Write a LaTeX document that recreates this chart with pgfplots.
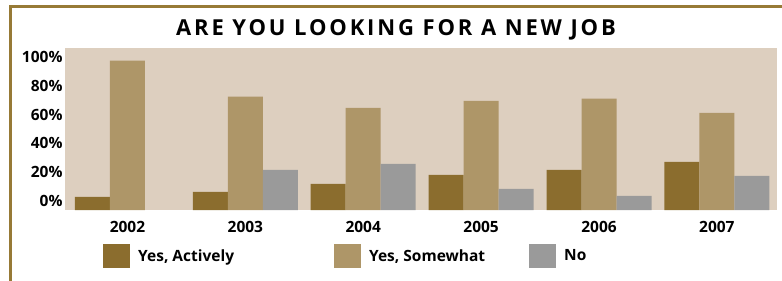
\documentclass[border=0pt]{standalone}
\usepackage{pgfplots}
\pgfplotsset{compat=1.18}
\usepackage{fontspec}
\setmainfont{Open Sans}
\definecolor{active}{HTML}{8B6D2E}
\definecolor{somewhat}{HTML}{AE9668}
\definecolor{nocol}{HTML}{9A9A9A}
\definecolor{bgc}{HTML}{DDCFBF}
\definecolor{frame}{HTML}{977A36}
\begin{document}
\begin{tikzpicture}
\path[use as bounding box] (0pt,0pt) rectangle (782pt,281pt);
\draw[frame, line width=2.6pt] (10.5pt,0pt) -- (10.5pt,274.5pt) -- (782pt,274.5pt);
\begin{axis}[
  at={(65pt,71pt)}, anchor=south west,
  scale only axis, width=712pt, height=162pt,
  ybar, bar width=35pt,
  xmin=-0.53, xmax=5.51,
  ymin=0, ymax=113,
  y filter/.expression={y+6.5},
  axis background/.style={fill=bgc},
  axis line style={draw=none},
  major tick length=0pt,
  xtick={0,1,2,3,4,5},
  xticklabels={2002,2003,2004,2005,2006,2007},
  ytick={6.5,26.5,46.5,66.5,86.5,106.5},
  yticklabels={0\%,20\%,40\%,60\%,80\%,100\%},
  tick label style={font=\bfseries\fontsize{15.5}{18}\selectfont},
  /pgf/number format/assume math mode=true,
  yticklabel style={anchor=east, xshift=1pt},
  xticklabel style={yshift=-8pt},
  legend columns=3,
  legend style={draw=none, fill=none, at={(0.0534,-0.284)}, anchor=west,
    inner sep=0pt,
    font=\bfseries\fontsize{15.5}{18}\selectfont,
    /tikz/every odd column/.append style={column sep=6pt},
    /tikz/column 2/.append style={column sep=98pt},
    /tikz/column 4/.append style={column sep=42pt}},
  legend image code/.code={\fill[#1] (0pt,-12pt) rectangle (27pt,12pt);},
]
\addplot[draw=none, fill=active, bar shift=-35pt] coordinates {(0,2.6) (1,6.1) (2,11.7) (3,18.0) (4,21.5) (5,27.1)};
\addplot[draw=none, fill=somewhat, bar shift=0pt] coordinates {(0,97.7) (1,72.5) (2,64.8) (3,69.7) (4,71.1) (5,61.3)};
\addplot[draw=none, fill=nocol, bar shift=35pt] coordinates {(1,21.5) (2,25.7) (3,8.2) (4,3.3) (5,17.3)};
\legend{{Yes, Actively},{Yes, Somewhat},No}
\end{axis}
\node[font=\bfseries\fontsize{22}{26}\selectfont, inner sep=0] at (396pt,251pt)
  {\addfontfeature{LetterSpace=13}ARE YOU LOOKING FOR A NEW JOB};
\end{tikzpicture}
\end{document}
